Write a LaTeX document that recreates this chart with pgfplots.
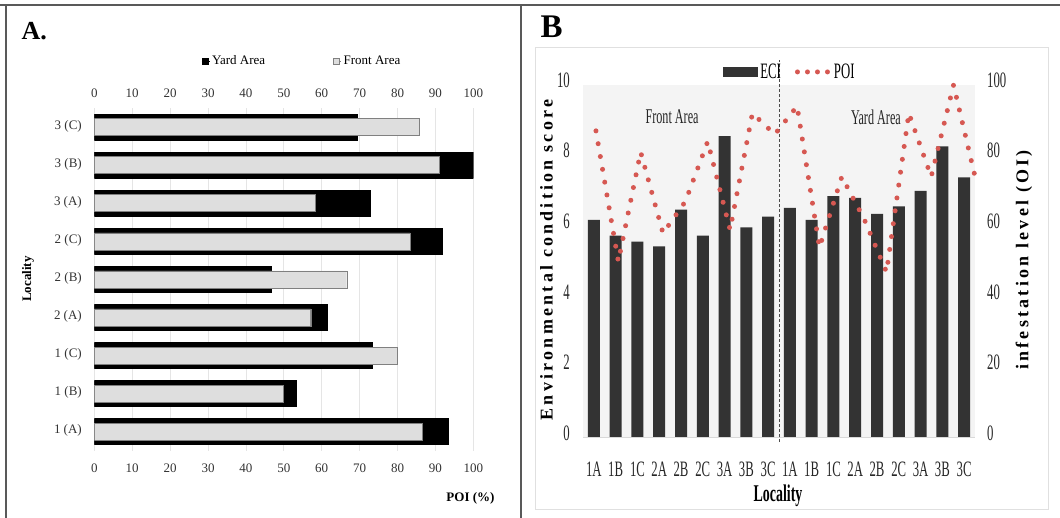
\documentclass[border=0pt]{standalone}
\usepackage{fontspec}
\setmainfont{Liberation Serif}
\newfontfamily\narrow[FakeStretch=0.58]{Liberation Serif}
\newfontfamily\spaced[LetterSpace=18]{Liberation Serif}
\usepackage{pgfplots}
\pgfplotsset{compat=1.18}

\definecolor{eci}{RGB}{51,51,51}
\definecolor{poi}{RGB}{214,88,82}
\definecolor{frontfill}{RGB}{222,222,222}
\definecolor{plotbg}{RGB}{244,244,244}

\begin{document}
\begin{tikzpicture}
\path[use as bounding box] (0pt,0pt) rectangle (1060pt,518pt);
% panel frames
\draw[black!65, line width=1.5pt] (0pt,513pt) -- (1060pt,513pt);
\draw[black!65, line width=1.5pt] (6pt,513pt) -- (6pt,0pt);
\draw[black!65, line width=1.5pt] (521pt,513pt) -- (521pt,0pt);
\draw[black!12, line width=1pt] (535pt,8pt) rectangle (1048pt,470pt);

% ---------- panel A ----------
\begin{axis}[
  at={(94.3pt,67.3pt)}, anchor=south west, scale only axis,
  width=379pt, height=342.7pt,
  xmin=0, xmax=100, ymin=-0.5, ymax=8.5,
  xtick={0,10,...,100}, ytick={0,...,8},
  yticklabels={1 (A),1 (B),1 (C),2 (A),2 (B),2 (C),3 (A),3 (B),3 (C)},
  xmajorgrids, grid style={black!10, line width=0.7pt},
  axis line style={draw=none}, major tick length=0pt,
  /pgf/number format/assume math mode=true,
  tick label style={font=\fontsize{13}{15}\selectfont, text=black!80, inner sep=0pt},
  xticklabel style={anchor=base, yshift=-21.8pt},
  yticklabel style={anchor=mid east, xshift=-12.3pt},
  legend style={at={(axis description cs:0.548,1.137)}, anchor=center,
    draw=none, fill=none, legend columns=2,
    font=\fontsize{13}{15}\selectfont,
    /tikz/every even column/.append style={column sep=66pt}},
  legend image code/.code={\path (0pt,0pt) -- (8pt,0pt);
    \draw[#1] (0pt,-3pt) rectangle (6pt,3pt);},
]
\addplot[xbar, bar width=26pt, bar shift=0pt, fill=black, draw=black]
  coordinates {(93.4,0) (53.4,1) (73.4,2) (61.5,3) (46.8,4) (91.7,5) (72.7,6) (100,7) (69.3,8)};
\addlegendentry{Yard Area}
\addplot[xbar, bar width=17pt, bar shift=0pt, fill=frontfill, draw=black!50]
  coordinates {(86.5,0) (49.9,1) (79.9,2) (57.1,3) (66.6,4) (83.3,5) (58.2,6) (90.9,7) (85.7,8)};
\addlegendentry{Front Area}
\end{axis}

% top tick labels of panel A
\begin{axis}[
  at={(94.3pt,67.3pt)}, anchor=south west, scale only axis,
  width=379pt, height=342.7pt,
  xmin=0, xmax=100, ymin=0, ymax=1,
  xtick={0,10,...,100}, ytick=\empty,
  axis line style={draw=none}, major tick length=0pt,
  xticklabel pos=upper,
  /pgf/number format/assume math mode=true,
  tick label style={font=\fontsize{13}{15}\selectfont, text=black!80, inner sep=0pt},
  xticklabel style={anchor=base, yshift=10.8pt},
]
\addplot[draw=none] coordinates {(0,0)};
\end{axis}

\node[anchor=base west, font=\fontsize{26}{28}\selectfont\bfseries] at (18pt,478pt) {A.};
\node[rotate=90, font=\fontsize{13}{15}\selectfont\bfseries] at (28pt,239pt) {Locality};
\node[anchor=base east, font=\fontsize{13}{15}\selectfont\bfseries] at (498pt,16pt) {POI (\%)};

% ---------- panel B ----------
\begin{axis}[
  at={(583pt,80pt)}, anchor=south west, scale only axis,
  width=392pt, height=353pt,
  xmin=-0.5, xmax=17.5, ymin=0, ymax=10,
  xtick={0,...,17},
  xticklabels={1A,1B,1C,2A,2B,2C,3A,3B,3C,1A,1B,1C,2A,2B,2C,3A,3B,3C},
  ytick={0,2,...,10},
  axis background/.style={fill=plotbg},
  axis line style={draw=none}, major tick length=0pt,
  /pgf/number format/assume math mode=true,
  tick label style={font=\narrow\fontsize{22}{24}\selectfont, text=black!85, inner sep=0pt},
  xticklabel style={anchor=base, yshift=-38.5pt},
  yticklabel style={anchor=mid east, xshift=-13pt},
  clip=false,
  legend style={at={(axis description cs:0.528,1.037)}, anchor=center,
    draw=none, fill=none, legend columns=2,
    font=\narrow\fontsize{22}{24}\selectfont,
    /tikz/every even column/.append style={column sep=12pt}},
]
\addplot[ybar, bar width=12pt, bar shift=0pt, fill=eci, draw=none,
  legend image code/.code={\fill[eci] (0pt,-5pt) rectangle (35pt,5pt);}]
  coordinates {(0,6.18) (1,5.73) (2,5.56) (3,5.43) (4,6.47) (5,5.73) (6,8.55) (7,5.97) (8,6.27)
               (9,6.52) (10,6.18) (11,6.85) (12,6.80) (13,6.35) (14,6.56) (15,7.00) (16,8.26) (17,7.38)};
\addlegendentry{ECI}
\addlegendimage{legend image code/.code={\draw[poi, line width=5pt, dash pattern=on 0pt off 10pt, line cap=round] (2pt,0pt) -- (34pt,0pt);}}
\addlegendentry{POI}
\draw[black!15, line width=1pt] (axis cs:-0.5,0) -- (axis cs:17.5,0);
\draw[black!70, line width=0.8pt, dash pattern=on 3pt off 2pt] (axis cs:8.5,-0.12) -- (axis cs:8.5,10.7);
\node[font=\narrow\fontsize{21}{23}\selectfont, text=black!85] at (axis cs:3.59,9.09) {Front Area};
\node[font=\narrow\fontsize{21}{23}\selectfont, text=black!85] at (axis cs:12.95,9.09) {Yard Area};
\end{axis}

\begin{axis}[
  at={(583pt,80pt)}, anchor=south west, scale only axis,
  width=392pt, height=353pt,
  xmin=-0.58, xmax=16.96, ymin=0, ymax=100,
  xtick=\empty, ytick={0,20,...,100},
  axis line style={draw=none}, major tick length=0pt,
  yticklabel pos=right,
  /pgf/number format/assume math mode=true,
  tick label style={font=\narrow\fontsize{22}{24}\selectfont, text=black!85, inner sep=0pt},
  yticklabel style={anchor=mid west, xshift=12pt},
  clip=false,
]
\addplot[poi, line width=5pt, dash pattern=on 0pt off 13pt, line cap=round]
  coordinates {(0,87) (1,50) (2,81) (3,58) (4,67) (5,84) (6,59) (7,92) (8,86)
               (9,94) (10,54) (11,74) (12,62) (13,47) (14,92) (15,74) (16,100) (17,73)};
\end{axis}

\node[anchor=base west, font=\fontsize{33}{35}\selectfont\bfseries] at (537pt,480pt) {B};
\node[rotate=90, font=\spaced\fontsize{18}{20}\selectfont\bfseries] at (546.5pt,258pt) {Environmental condition score};
\node[rotate=90, font=\spaced\fontsize{18}{20}\selectfont\bfseries] at (1024pt,258pt) {infestation level (OI)};
\node[anchor=base, font=\narrow\fontsize{24}{26}\selectfont\bfseries] at (778pt,16pt) {Locality};
\end{tikzpicture}
\end{document}
